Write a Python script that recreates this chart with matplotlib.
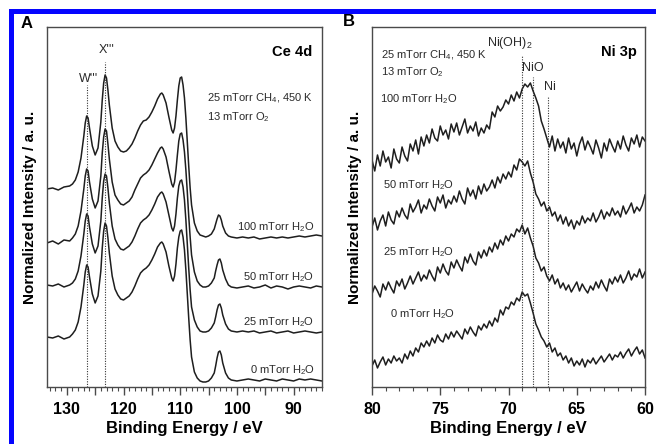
import numpy as np
import matplotlib
matplotlib.use("Agg")
import matplotlib.pyplot as plt
from matplotlib.patches import Rectangle

plt.rcParams['font.family'] = ['Liberation Sans', 'DejaVu Sans']
plt.rcParams['mathtext.fontset'] = 'custom'
plt.rcParams['mathtext.rm'] = 'Liberation Sans'
plt.rcParams['mathtext.it'] = 'Liberation Sans:italic'
plt.rcParams['mathtext.bf'] = 'Liberation Sans:bold'

# ---- Ce 4d: binding energy (eV) and stacked intensities (a.u.) ----
be_ce = [133.5, 132.5, 131.5, 130.5, 129.5, 129, 128.5, 128, 127.5, 127,
         126.75, 126.5, 126.25, 126, 125.5, 125, 124.5, 124, 123.75, 123.5,
         123.25, 123, 122.75, 122.5, 122, 121.5, 121, 120.5, 120, 119.5,
         119, 118.5, 118, 117.5, 117, 116.5, 116, 115.5, 115, 114.5,
         114, 113.5, 113.25, 113, 112.5, 112, 111.5, 111.25, 111, 110.75,
         110.5, 110.25, 110, 109.75, 109.5, 109.25, 109, 108.75, 108.5, 108.25,
         108, 107.5, 107, 106.5, 106, 105.5, 105, 104.5, 104, 103.75,
         103.5, 103.25, 103, 102.75, 102.5, 102, 101.5, 101, 100, 99,
         98, 97, 96, 95, 94, 93, 92, 91, 90, 89,
         88, 87, 86, 85]

ce_100 = [198, 199, 197, 200, 201, 203, 207, 215, 229, 251,
          264, 271, 269, 259, 241, 232, 239, 265, 287, 304,
          312, 309, 297, 282, 259, 246, 240, 236, 235, 236,
          239, 243, 249, 256, 262, 266, 267, 270, 275, 281,
          288, 293, 294, 292, 284, 270, 257, 254, 259, 271,
          287, 301, 309, 310, 302, 289, 269, 245, 221, 199,
          182, 164, 156, 152, 151, 150, 151, 153, 158, 163,
          168, 172, 171, 167, 161, 154, 151, 150, 149, 150,
          149, 150, 148, 149, 150, 149, 150, 149, 150, 151,
          150, 151, 152, 151]

ce_50 = [144, 146, 143, 147, 146, 149, 153, 161, 176, 198,
         211, 218, 216, 205, 188, 179, 186, 211, 234, 250,
         258, 256, 243, 228, 205, 192, 187, 183, 182, 184,
         186, 190, 197, 203, 209, 212, 214, 217, 222, 228,
         234, 239, 240, 238, 230, 216, 203, 200, 205, 217,
         232, 246, 253, 254, 247, 235, 217, 195, 171, 150,
         132, 115, 106, 102, 100, 100, 101, 104, 109, 116,
         122, 127, 128, 124, 117, 108, 102, 100, 99, 100,
         101, 99, 100, 102, 99, 101, 100, 98, 100, 101,
         100, 99, 101, 100]

ce_25 = [102, 101, 103, 100, 102, 104, 108, 116, 131, 153,
         166, 173, 171, 160, 143, 134, 141, 166, 189, 206,
         213, 211, 199, 184, 161, 148, 142, 138, 137, 139,
         141, 145, 151, 158, 164, 167, 169, 172, 177, 183,
         190, 194, 195, 193, 185, 172, 159, 156, 161, 173,
         189, 201, 206, 207, 200, 187, 167, 143, 119, 97,
         80, 67, 60, 56, 55, 55, 56, 59, 64, 70,
         77, 82, 83, 79, 72, 63, 58, 56, 55, 56,
         55, 56, 54, 55, 56, 54, 55, 56, 54, 55,
         56, 55, 54, 55]

ce_0 = [50, 49, 51, 48, 50, 53, 57, 65, 80, 102,
        115, 122, 120, 110, 93, 84, 91, 116, 139, 156,
        164, 161, 149, 134, 111, 98, 92, 88, 87, 89,
        91, 95, 101, 108, 114, 117, 119, 122, 127, 133,
        140, 144, 145, 143, 135, 121, 109, 106, 111, 123,
        139, 150, 156, 157, 150, 137, 117, 93, 69, 47,
        30, 15, 9, 6, 5, 5, 6, 9, 14, 21,
        29, 35, 36, 32, 24, 14, 9, 7, 6, 7,
        8, 7, 6, 8, 7, 6, 8, 7, 6, 8,
        7, 8, 7, 6]

# ---- Ni 3p: 0.2 eV steps from 80 down to 60 eV ----
ni_100 = [227, 216, 232, 221, 236, 225, 230, 219, 238, 228,
          224, 240, 231, 226, 243, 236, 247, 233, 250, 241,
          252, 244, 258, 249, 246, 261, 252, 257, 248, 263,
          255, 264, 252, 260, 268, 254, 261, 256, 265, 251,
          259, 254, 262, 258, 275, 270, 281, 276, 280, 287,
          283, 292, 286, 295, 289, 298, 303, 300, 304, 296,
          289, 281, 266, 258, 249, 240, 251, 236, 248, 239,
          245, 234, 249, 238, 244, 231, 243, 250, 237, 246,
          240, 233, 247, 239, 229, 244, 236, 248, 241, 235,
          246, 238, 251, 242, 236, 249, 243, 252, 240, 250,
          246]

ni_50 = [160, 169, 157, 166, 172, 161, 175, 167, 163, 176,
         170, 179, 172, 168, 183, 175, 180, 187, 174, 182,
         178, 188, 181, 176, 190, 184, 192, 179, 187, 183,
         191, 185, 196, 188, 183, 199, 191, 197, 188, 201,
         193, 203, 196, 200, 207, 199, 210, 204, 213, 208,
         215, 210, 222, 217, 228, 225, 221, 226, 214, 205,
         193, 188, 181, 185, 176, 180, 171, 175, 166, 172,
         163, 170, 161, 167, 158, 166, 162, 171, 164, 169,
         166, 174, 165, 170, 177, 168, 175, 171, 179, 172,
         176, 170, 181, 173, 178, 184, 174, 180, 176, 182,
         192]

ni_25 = [93, 101, 96, 90, 103, 97, 105, 99, 94, 106,
         101, 108, 98, 104, 111, 103, 109, 115, 106, 112,
         108, 117, 111, 106, 120, 114, 123, 116, 112, 125,
         119, 127, 121, 116, 130, 124, 133, 126, 122, 135,
         129, 137, 131, 140, 135, 144, 138, 147, 142, 151,
         146, 153, 150, 158, 155, 162, 153, 159, 149, 141,
         129, 124, 116, 120, 111, 106, 112, 103, 108, 99,
         104, 97, 102, 95, 100, 105, 96, 103, 98, 94,
         101, 97, 105, 99, 107, 101, 96, 108, 103, 110,
         105, 112, 104, 109, 116, 107, 113, 110, 118, 109,
         115]

ni_0 = [21, 27, 19, 25, 30, 22, 28, 24, 31, 26,
        29, 24, 33, 28, 36, 31, 39, 35, 44, 40,
        46, 41, 49, 44, 52, 47, 45, 53, 48, 55,
        50, 56, 52, 48, 58, 53, 60, 55, 51, 61,
        57, 63, 59, 66, 61, 69, 65, 77, 72, 80,
        78, 85, 82, 89, 86, 95, 91, 93, 84, 74,
        63, 57, 50, 46, 40, 44, 35, 39, 31, 34,
        27, 31, 24, 29, 21, 26, 22, 28, 20, 27,
        24, 29, 23, 27, 31, 25, 29, 33, 27, 32,
        30, 35, 29, 34, 38, 31, 36, 40, 33, 37,
        29]

be_ni = np.linspace(80, 60, len(ni_100))

h2o_labels = ["100 mTorr H$_2$O", "50 mTorr H$_2$O", "25 mTorr H$_2$O", "0 mTorr H$_2$O"]
ce_peak_names = ["W'''", "X'''"]
ce_peak_pos = [126.4, 123.3]
ni_peak_names = ["Ni(OH)$_2$", "NiO", "Ni"]
ni_peak_pos = [69.0, 68.2, 67.1]

line_col = '#1e1e1e'
text_col = '#2a2a2a'
spine_col = '#4a4a4a'

fig = plt.figure(figsize=(6.56, 4.44), dpi=100)
axA = fig.add_axes([0.0716, 0.1284, 0.4192, 0.8108])
axB = fig.add_axes([0.5671, 0.1284, 0.4162, 0.8108])

for ax in (axA, axB):
    ax.set_ylim(0, 360)
    ax.set_yticks([])
    for s in ax.spines.values():
        s.set_color(spine_col)
        s.set_linewidth(1.0)
    ax.tick_params(axis='x', which='major', direction='out', length=6, width=1.0,
                   color=spine_col, pad=5, labelsize=11.5)
    ax.tick_params(axis='x', which='minor', direction='out', length=3, width=0.8,
                   color=spine_col)
    ax.set_xlabel('Binding Energy / eV', fontsize=12, fontweight='bold', labelpad=3)
    ax.set_ylabel('Normalized Intensity / a. u.', fontsize=11, fontweight='bold', labelpad=7)

# panel A: Ce 4d
for y in (ce_100, ce_50, ce_25, ce_0):
    axA.plot(be_ce, y, color=line_col, lw=1.1)
axA.set_xlim(133.5, 85)
maj = [130, 125, 120, 115, 110, 105, 100, 95, 90]
axA.set_xticks(maj)
axA.set_xticklabels([str(t) if t % 10 == 0 else '' for t in maj], fontweight='bold')
axA.set_xticks(range(85, 134), minor=True)

for name, pos, top, tx, ty in zip(ce_peak_names, ce_peak_pos, [302, 325],
                                  [126.2, 123.0], [308, 337]):
    axA.plot([pos, pos], [0, top], color='#333333', lw=0.8, ls=(0, (1, 1.3)))
    axA.text(tx, ty, name, ha='center', va='center', fontsize=9, color=text_col)

axA.text(86.8, 335, 'Ce 4d', ha='right', va='center', fontsize=10.5, fontweight='bold')
axA.text(105.3, 289, '25 mTorr CH$_4$, 450 K', ha='left', va='center', fontsize=8, color=text_col)
axA.text(105.3, 270, '13 mTorr O$_2$', ha='left', va='center', fontsize=8, color=text_col)
for lab, ty in zip(h2o_labels, [160, 110, 65, 17]):
    axA.text(86.3, ty, lab, ha='right', va='center', fontsize=8, color=text_col)

# panel B: Ni 3p
for y in (ni_100, ni_50, ni_25, ni_0):
    axB.plot(be_ni, y, color=line_col, lw=1.1)
axB.set_xlim(80, 60)
axB.set_xticks([80, 75, 70, 65, 60])
axB.set_xticklabels(['80', '75', '70', '65', '60'], fontweight='bold')
axB.set_xticks(range(60, 81), minor=True)

for name, pos, top, tx, ty in zip(ni_peak_names, ni_peak_pos, [332, 310, 290],
                                  [69.9, 68.2, 67.0], [344, 319, 300]):
    axB.plot([pos, pos], [0, top], color='#333333', lw=0.8, ls=(0, (1, 1.3)))
    axB.text(tx, ty, name, ha='center', va='center', fontsize=9, color=text_col)

axB.text(60.6, 335, 'Ni 3p', ha='right', va='center', fontsize=10.5, fontweight='bold')
axB.text(79.35, 332, '25 mTorr CH$_4$, 450 K', ha='left', va='center', fontsize=8, color=text_col)
axB.text(79.35, 315, '13 mTorr O$_2$', ha='left', va='center', fontsize=8, color=text_col)
for lab, tx, ty in zip(h2o_labels, [79.4, 79.2, 79.2, 78.7], [288, 202, 135, 73]):
    axB.text(tx, ty, lab, ha='left', va='center', fontsize=8, color=text_col)

# panel letters
fig.text(27 / 656, 1 - 24 / 444, 'A', ha='center', va='center', fontsize=12, fontweight='bold')
fig.text(349 / 656, 1 - 22 / 444, 'B', ha='center', va='center', fontsize=12, fontweight='bold')

# blue frame on top and left
blue = '#0505ff'
fig.add_artist(Rectangle((9 / 656, 1 - 14.5 / 444), 1, 5 / 444, transform=fig.transFigure,
                         color=blue, lw=0))
fig.add_artist(Rectangle((9 / 656, 0), 4.5 / 656, 1 - 9.5 / 444, transform=fig.transFigure,
                         color=blue, lw=0))

fig.savefig('out.png', dpi=100)
